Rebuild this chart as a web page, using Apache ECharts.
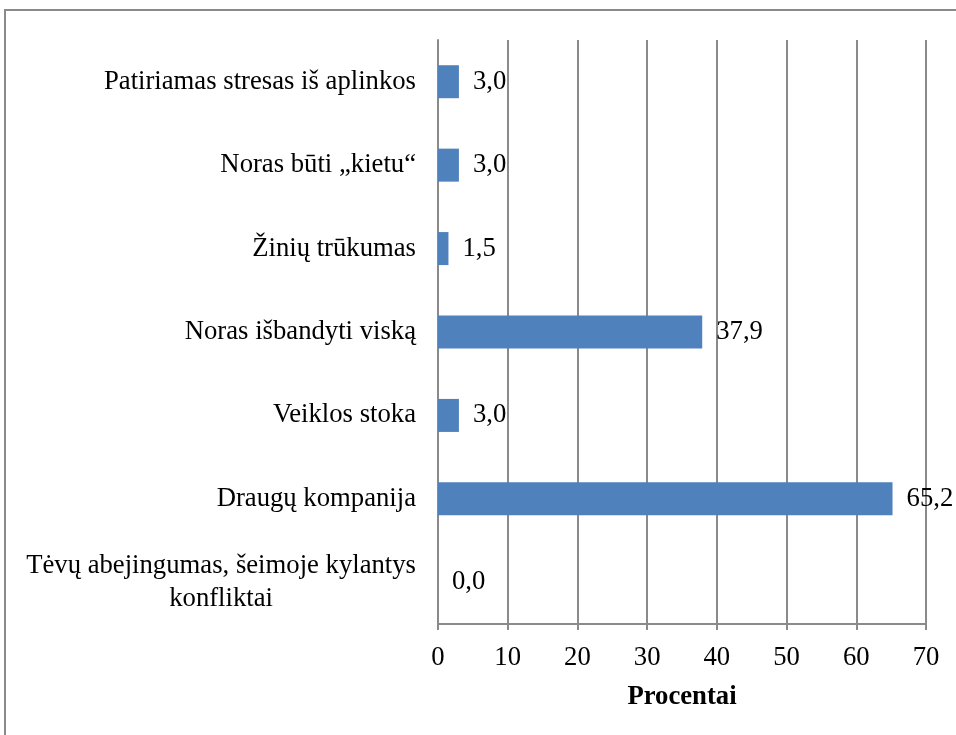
<!DOCTYPE html>
<html>
<head>
<meta charset="utf-8">
<script src="https://cdn.jsdelivr.net/npm/echarts@6/dist/echarts.min.js"></script>
<style>html,body{margin:0;padding:0;background:#fff}#c{width:956px;height:735px}</style>
</head>
<body>
<div id="c"></div>
<script>
const categories = [
  "Tėvų abejingumas, šeimoje kylantys\nkonfliktai",
  "Draugų kompanija",
  "Veiklos stoka",
  "Noras išbandyti viską",
  "Žinių trūkumas",
  "Noras būti „kietu“",
  "Patiriamas stresas iš aplinkos"
];
const values = [0.0, 65.2, 3.0, 37.9, 1.5, 3.0, 3.0];
const xTicks = [0, 10, 20, 30, 40, 50, 60, 70];
const axisTitle = "Procentai";

const chart = echarts.init(document.getElementById('c'));
const font = '"Liberation Serif", "Times New Roman", serif';
const fs = 26.7;
chart.setOption({
  animation: false,
  textStyle: { fontFamily: font },
  graphic: [{
    type: 'rect', shape: { x: 5, y: 10, width: 1100, height: 1100 },
    style: { fill: 'none', stroke: '#8a8a8a', lineWidth: 2 }, silent: true
  }],
  grid: { left: 438, right: 30, top: 40, bottom: 111, containLabel: false },
  xAxis: {
    type: 'value', min: xTicks[0], max: xTicks[xTicks.length - 1], interval: 10,
    name: axisTitle, nameLocation: 'middle', nameGap: 60,
    nameTextStyle: { fontFamily: font, fontSize: fs, fontWeight: 'bold', color: '#000' },
    axisLine: { show: true, lineStyle: { color: '#8a8a8a', width: 2 } },
    axisTick: { show: true, length: 6, lineStyle: { color: '#8a8a8a', width: 2 } },
    axisLabel: { fontFamily: font, fontSize: fs, color: '#000', margin: 20 },
    splitLine: { show: true, lineStyle: { color: '#8a8a8a', width: 2 } }
  },
  yAxis: {
    type: 'category', data: categories,
    axisLine: { show: true, lineStyle: { color: '#8a8a8a', width: 2 } },
    axisTick: { show: false },
    axisLabel: {
      fontFamily: font, fontSize: fs, color: '#000', margin: 22, lineHeight: 33,
      formatter: function (v) { return v.split('\n').map(s => '{c|' + s + '}').join('\n'); },
      rich: { c: { fontFamily: font, fontSize: fs, color: '#000', align: 'center', lineHeight: 33 } }
    }
  },
  series: [{
    type: 'bar', data: values, barWidth: 33,
    itemStyle: { color: '#4F81BD' },
    label: {
      show: true, position: 'right', distance: 14,
      fontFamily: font, fontSize: fs, color: '#000',
      formatter: p => p.value.toFixed(1).replace('.', ',')
    }
  }]
});
</script>
</body>
</html>
